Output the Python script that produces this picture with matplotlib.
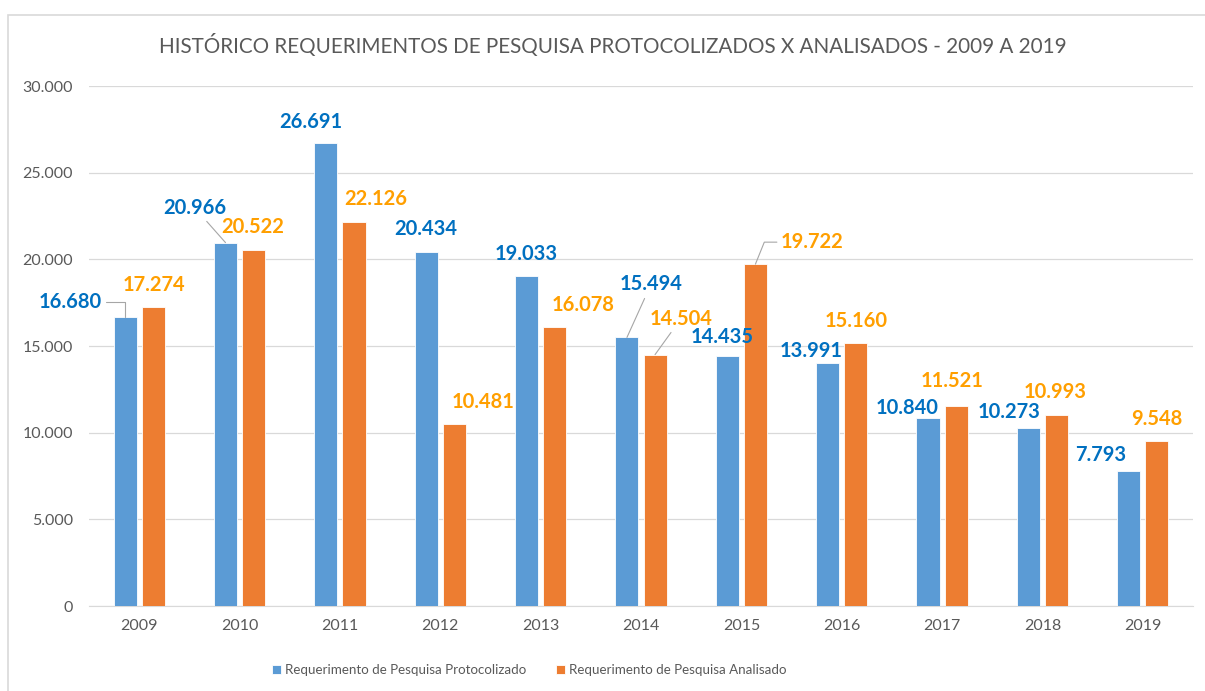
import numpy as np
import matplotlib.pyplot as plt
from matplotlib.patches import Rectangle
from matplotlib.ticker import FuncFormatter

anos = ['2009', '2010', '2011', '2012', '2013', '2014', '2015', '2016', '2017', '2018', '2019']
protocolizado = [16680, 20966, 26691, 20434, 19033, 15494, 14435, 13991, 10840, 10273, 7793]
analisado = [17274, 20522, 22126, 10481, 16078, 14504, 19722, 15160, 11521, 10993, 9548]

# deslocamento dos rótulos (pixels) em relação ao topo da barra
off_prot = [(-55, 15), (-31, 35), (-15, 21), (0, 23), (0, 22), (24, 53),
            (-5, 19), (-17, 12), (-21, 10), (-19, 16), (-28, 16)]
off_anal = [(1, 22), (-1, 23), (22, 23), (29, 22), (28, 22), (26, 36),
            (57, 22), (0, 22), (-4, 25), (-1, 23), (0, 22)]
# linhas de chamada: None = sem linha
lead_prot = ["angle,angleA=0,angleB=90", "arc3", None, None, None, "arc3",
             None, None, None, None, None]
lead_anal = [None, None, None, None, None, "arc3",
             "angle,angleA=0,angleB=68", None, None, None, None]

AZUL = '#5B9BD5'
LARANJA = '#ED7D31'
AZUL_TXT = '#0070C0'
LARANJA_TXT = '#FF9F00'
CINZA = '#595959'
GRADE = '#D9D9D9'


def fmt(v):
    return f"{int(v):,}".replace(",", ".")


def rotular(ax, xs, vals, offs, leads, cor):
    for x, v, (dx, dy), ld in zip(xs, vals, offs, leads):
        props = None
        if ld is not None:
            props = dict(arrowstyle='-', color='#A6A6A6', lw=0.8,
                         connectionstyle=ld, shrinkA=1, shrinkB=0)
        ax.annotate(fmt(v), xy=(x, v), xytext=(dx, dy), textcoords='offset pixels',
                    ha='center', va='center', fontsize=14.5, fontweight='bold',
                    color=cor, arrowprops=props)


def main():
    plt.rcParams['font.family'] = ['Lato', 'DejaVu Sans']
    fig = plt.figure(figsize=(12.05, 6.91), dpi=100)
    fig.patches.append(Rectangle((8 / 1205, -0.05), 1.1, 1.05 - 15 / 691,
                                 transform=fig.transFigure, fill=False,
                                 edgecolor=GRADE, lw=1.2))

    ax = fig.add_axes([89 / 1205, 1 - 606 / 691, (1193 - 89) / 1205, (606 - 86) / 691])
    x = np.arange(len(anos))
    w = 0.23
    ax.bar(x - 0.14, protocolizado, w, color=AZUL, edgecolor='white', lw=0.6,
           label='Requerimento de Pesquisa Protocolizado', zorder=3)
    ax.bar(x + 0.14, analisado, w, color=LARANJA, edgecolor='white', lw=0.6,
           label='Requerimento de Pesquisa Analisado', zorder=3)

    rotular(ax, x - 0.14, protocolizado, off_prot, lead_prot, AZUL_TXT)
    rotular(ax, x + 0.14, analisado, off_anal, lead_anal, LARANJA_TXT)

    ax.set_xlim(-0.5, 10.5)
    ax.set_ylim(0, 30000)
    ax.set_yticks(np.arange(0, 30001, 5000))
    ax.yaxis.set_major_formatter(FuncFormatter(lambda v, p: fmt(v)))
    ax.set_xticks(x)
    ax.set_xticklabels(anos)
    ax.tick_params(axis='both', length=0, labelsize=11.5, labelcolor=CINZA)
    ax.tick_params(axis='y', pad=11.5)
    ax.tick_params(axis='x', pad=9)
    ax.grid(axis='y', color=GRADE, lw=0.9, zorder=0)
    for s in ['top', 'right', 'left']:
        ax.spines[s].set_visible(False)
    ax.spines['bottom'].set_color(GRADE)

    fig.text(613 / 1205, 1 - 46 / 691, 'HISTÓRICO REQUERIMENTOS DE PESQUISA PROTOCOLIZADOS X ANALISADOS - 2009 A 2019',
             ha='center', va='center', fontsize=14.9, color=CINZA)

    fig.legend(loc='center', bbox_to_anchor=(529 / 1205, 1 - 670 / 691), ncol=2,
               frameon=False, labelcolor=CINZA, handlelength=0.7,
               handleheight=0.7, handletextpad=0.3, columnspacing=2.2,
               fontsize=9.6)

    fig.savefig('out.png', dpi=100)


if __name__ == "__main__":
    main()
